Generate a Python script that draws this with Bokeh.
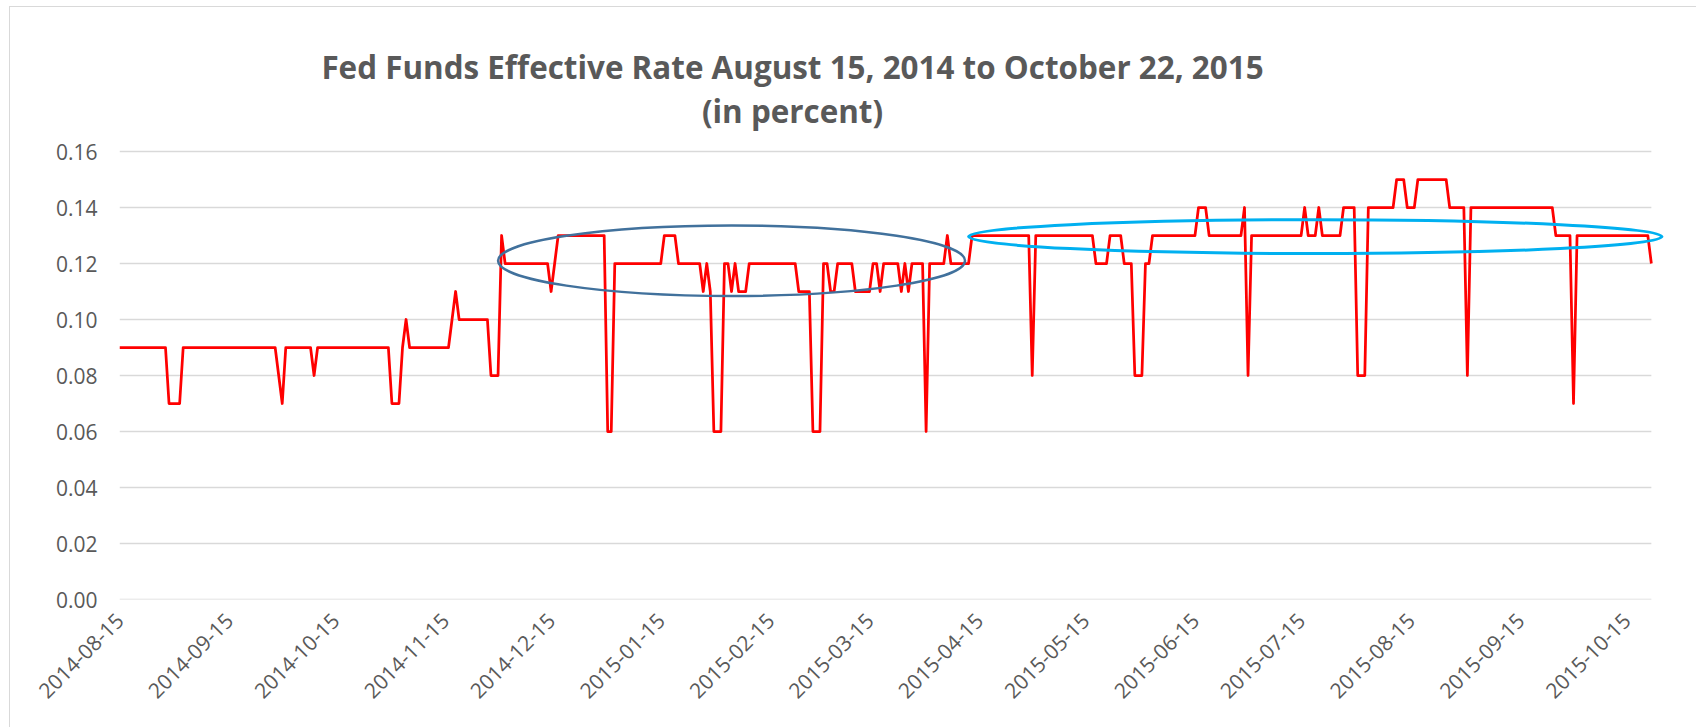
import pandas as pd
from math import pi
from bokeh.plotting import figure
from bokeh.models import Range1d, FixedTicker, DatetimeTickFormatter, NumeralTickFormatter, Label
from bokeh.embed import file_html
from bokeh.resources import INLINE

title_line1 = "Fed Funds Effective Rate August 15, 2014 to October 22, 2015"
title_line2 = "(in percent)"

# Daily rate: each entry is the first day of a run of equal values
change_dates = [
    "2014-08-15", "2014-08-29", "2014-09-02", "2014-09-29", "2014-09-30", "2014-10-01",
    "2014-10-09", "2014-10-10", "2014-10-31", "2014-11-03", "2014-11-04", "2014-11-05",
    "2014-11-17", "2014-11-18", "2014-11-19", "2014-11-28", "2014-12-01", "2014-12-02",
    "2014-12-15", "2014-12-16", "2014-12-17", "2014-12-31", "2015-01-02", "2015-01-16",
    "2015-01-20", "2015-01-27", "2015-01-28", "2015-01-29", "2015-01-30", "2015-02-02",
    "2015-02-04", "2015-02-05", "2015-02-06", "2015-02-09", "2015-02-23", "2015-02-27",
    "2015-03-02", "2015-03-04", "2015-03-06", "2015-03-11", "2015-03-16", "2015-03-18",
    "2015-03-19", "2015-03-24", "2015-03-25", "2015-03-26", "2015-03-27", "2015-03-31",
    "2015-04-01", "2015-04-06", "2015-04-07", "2015-04-13", "2015-04-30", "2015-05-01",
    "2015-05-18", "2015-05-22", "2015-05-26", "2015-05-29", "2015-06-01", "2015-06-03",
    "2015-06-16", "2015-06-19", "2015-06-29", "2015-06-30", "2015-07-01", "2015-07-16",
    "2015-07-17", "2015-07-20", "2015-07-21", "2015-07-27", "2015-07-31", "2015-08-03",
    "2015-08-11", "2015-08-14", "2015-08-17", "2015-08-26", "2015-08-31", "2015-09-01",
    "2015-09-25", "2015-09-30", "2015-10-01", "2015-10-22",
]
rates = [
    0.09, 0.07, 0.09, 0.08, 0.07, 0.09,
    0.08, 0.09, 0.07, 0.09, 0.10, 0.09,
    0.10, 0.11, 0.10, 0.08, 0.13, 0.12,
    0.11, 0.12, 0.13, 0.06, 0.12, 0.13,
    0.12, 0.11, 0.12, 0.11, 0.06, 0.12,
    0.11, 0.12, 0.11, 0.12, 0.11, 0.06,
    0.12, 0.11, 0.12, 0.11, 0.12, 0.11,
    0.12, 0.11, 0.12, 0.11, 0.12, 0.06,
    0.12, 0.13, 0.12, 0.13, 0.08, 0.13,
    0.12, 0.13, 0.12, 0.08, 0.12, 0.13,
    0.14, 0.13, 0.14, 0.08, 0.13, 0.14,
    0.13, 0.14, 0.13, 0.14, 0.08, 0.14,
    0.15, 0.14, 0.15, 0.14, 0.08, 0.14,
    0.13, 0.07, 0.13, 0.12,
]
first_date = "2014-08-15"
last_date = "2015-10-22"

x_tick_dates = [
    "2014-08-15", "2014-09-15", "2014-10-15", "2014-11-15", "2014-12-15",
    "2015-01-15", "2015-02-15", "2015-03-15", "2015-04-15", "2015-05-15",
    "2015-06-15", "2015-07-15", "2015-08-15", "2015-09-15", "2015-10-15",
]
y_ticks = [0.00, 0.02, 0.04, 0.06, 0.08, 0.10, 0.12, 0.14, 0.16]

# highlight ellipses
ellipse_centers = ["2015-02-04", "2015-07-19"]
ellipse_rates = [0.121, 0.1296]
ellipse_width_days = [132, 196]
ellipse_heights = [0.0252, 0.0121]
ellipse_colors = ["#41719C", "#00B0F0"]
ellipse_widths = [2.5, 3]

# build the step-like polyline from the runs
starts = pd.to_datetime(change_dates)
ends = list(starts[1:] - pd.Timedelta(days=1)) + [pd.Timestamp(last_date)]
xs, ys = [], []
for s, e, v in zip(starts, ends, rates):
    xs.append(s)
    ys.append(v)
    if e > s:
        xs.append(e)
        ys.append(v)

FONT = "Open Sans"
GRAY = "#595959"
BORDER = "#d9d9d9"

# the frame is extended above the top tick to host the title (as in the original chart area)
p = figure(
    width=1696, height=727,
    x_axis_type="datetime",
    x_range=Range1d(pd.Timestamp(first_date), pd.Timestamp(last_date) + pd.Timedelta(days=4)),
    y_range=Range1d(0, 0.20),
    output_backend="svg", toolbar_location=None, title=None,
    min_border_left=119, min_border_right=31, min_border_top=39, min_border_bottom=128,
)
p.border_fill_color = None
p.background_fill_color = None
p.outline_line_color = None
grad = f"linear-gradient({BORDER}, {BORDER})"
p.styles = {
    "background-color": "white",
    "background-image": f"{grad}, {grad}",
    "background-position": "9px 6px, 9px 6px",
    "background-size": "1px 100%, 100% 1px",
    "background-repeat": "no-repeat",
}

# horizontal gridlines spanning the date range
p.segment(x0=[pd.Timestamp(first_date)] * len(y_ticks), x1=[pd.Timestamp(last_date)] * len(y_ticks),
          y0=y_ticks, y1=y_ticks, line_color=BORDER, line_width=1.5)

p.line(xs, ys, line_color="#FF0000", line_width=2.75, line_join="round")

p.ellipse(
    x=pd.to_datetime(ellipse_centers), y=ellipse_rates,
    width=[d * 86400000 for d in ellipse_width_days], height=ellipse_heights,
    fill_color=None, line_color=ellipse_colors, line_width=ellipse_widths,
)

tick_ms = [pd.Timestamp(d).value // 10**6 for d in x_tick_dates]
p.xaxis.ticker = FixedTicker(ticks=tick_ms)
fmt = "%Y-%m-%d"
p.xaxis.formatter = DatetimeTickFormatter(
    milliseconds=fmt, seconds=fmt, minsec=fmt, minutes=fmt, hourmin=fmt, hours=fmt,
    days=fmt, months=fmt, years=fmt)
p.xaxis.major_label_orientation = pi / 4
p.yaxis.ticker = FixedTicker(ticks=y_ticks)
p.yaxis.formatter = NumeralTickFormatter(format="0.00")

for ax in (p.xaxis, p.yaxis):
    ax.axis_line_color = None
    ax.major_tick_line_color = None
    ax.minor_tick_line_color = None
    ax.major_tick_out = 0
    ax.major_tick_in = 0
    ax.major_label_text_font = FONT
    ax.major_label_text_font_size = "21px"
    ax.major_label_text_color = GRAY
p.yaxis.major_label_standoff = 22
p.xaxis.major_label_standoff = 17

p.xgrid.grid_line_color = None
p.ygrid.grid_line_color = None

# title (screen units, relative to the frame's bottom-left corner)
frame_left, frame_bottom = 119, 599
title_cx = 792
for txt, baseline in ((title_line1, 66), (title_line2, 110)):
    p.add_layout(Label(x=title_cx - frame_left, y=frame_bottom - baseline,
                       x_units="screen", y_units="screen",
                       text=txt, text_align="center", text_baseline="alphabetic",
                       text_font=FONT, text_font_size="31.4px", text_font_style="bold",
                       text_color=GRAY))

open("out.html", "w").write(file_html(p, INLINE))
